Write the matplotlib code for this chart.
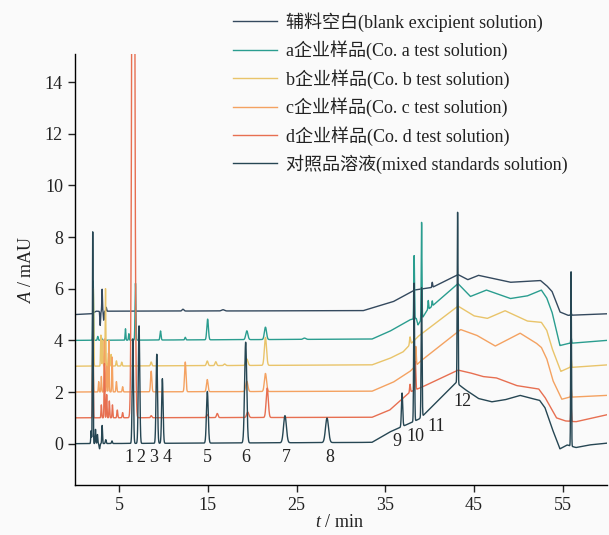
import matplotlib
matplotlib.use("Agg")
import matplotlib.pyplot as plt
import numpy as np

plt.rcParams['font.family'] = ['Liberation Serif', 'Noto Sans CJK SC']
plt.rcParams['mathtext.fontset'] = 'custom'
plt.rcParams['mathtext.rm'] = 'Liberation Serif'
plt.rcParams['mathtext.it'] = 'Liberation Serif:italic'

# baselines: (t / min, A / mAU)
blank_base = [(0, 5.0), (1.9, 5.03), (2.4, 5.13), (32.5, 5.15), (35.9, 5.5), (38.3, 5.95),
              (40.3, 6.05), (43.2, 6.55), (44.3, 6.35), (45.5, 6.52), (49.1, 6.25), (52.5, 6.32),
              (53.2, 6.12), (53.8, 5.9), (54.7, 5.1), (55.6, 4.97), (60, 5.03)]
a_base = [(0, 4.0), (33.5, 4.05), (35.5, 4.35), (37.8, 4.8), (38.5, 4.85), (38.7, 4.6),
          (39.7, 5.15), (43.2, 6.2), (44.6, 5.7), (46.4, 5.95), (49.1, 5.62), (51.0, 5.72),
          (52.6, 5.95), (53.2, 5.65), (53.8, 5.1), (54.7, 3.8), (55.6, 3.88), (60, 4.0)]
b_base = [(0, 3.0), (33.5, 3.05), (35.5, 3.3), (37.0, 3.55), (38.7, 4.15), (43.2, 5.33),
          (45.0, 4.95), (46.5, 4.85), (48.5, 5.15), (51.0, 4.75), (52.6, 4.7), (53.2, 4.4),
          (53.8, 3.7), (54.8, 2.8), (55.8, 2.95), (60, 3.05)]
c_base = [(0, 2.0), (33.5, 2.03), (35.9, 2.38), (37.8, 2.8), (39.0, 3.2), (43.5, 4.42),
          (45.3, 4.2), (47.4, 3.78), (50.2, 4.28), (52.0, 3.9), (52.6, 3.73), (53.2, 3.3),
          (53.9, 2.45), (54.9, 1.72), (55.8, 1.8), (60, 1.87)]
d_base = [(0, 1.0), (33.5, 1.02), (35.5, 1.3), (37.8, 2.0), (39.2, 2.2), (43.2, 2.85),
          (44.5, 2.75), (46.0, 2.6), (47.5, 2.55), (49.8, 2.25), (52.3, 2.12), (53.0, 1.8),
          (54.3, 1.0), (55.3, 0.88), (56.5, 0.85), (60, 1.12)]
mix_base = [(0, 0.0), (33.5, 0.05), (35.5, 0.45), (37.5, 0.75), (38.8, 0.95), (39.3, 1.1),
            (43.1, 2.4), (43.25, 2.3), (44.0, 2.1), (45.5, 1.75), (47.0, 1.62), (48.5, 1.7),
            (50.2, 1.87), (51.5, 1.75), (52.4, 1.68), (53.0, 1.4), (53.8, 0.6), (54.7, -0.2),
            (55.5, -0.05), (56.5, -0.15), (58, -0.05), (60, 0.02)]

# peaks: (retention time, height above baseline, width)
blank_peaks = [(2.87, -0.55, 0.04), (3.09, 0.85, 0.035), (3.27, -0.35, 0.04), (3.55, 0.15, 0.04),
               (12.2, 0.07, 0.1), (16.7, 0.05, 0.15), (40.3, 0.2, 0.04), (55.95, 0.1, 0.04)]
a_peaks = [(2.08, 2.3, 0.04), (2.6, 0.15, 0.05), (3.0, 0.1, 0.05), (5.72, 0.44, 0.04),
           (6.1, 0.25, 0.04), (6.85, 2.2, 0.05), (9.67, 0.35, 0.06), (12.46, 0.1, 0.06),
           (14.98, 0.8, 0.09), (19.4, 0.34, 0.12), (21.5, 0.48, 0.12), (25.9, 0.05, 0.15),
           (38.26, 2.45, 0.04), (39.1, 3.75, 0.04), (39.85, 0.35, 0.04), (40.3, 0.2, 0.04),
           (55.95, 0.25, 0.04)]
b_peaks = [(2.1, 3.0, 0.04), (2.95, 1.2, 0.04), (3.15, 1.0, 0.04), (3.47, 3.0, 0.035),
           (3.8, 0.5, 0.04), (4.1, 0.45, 0.04), (4.7, 0.2, 0.05), (5.3, 0.15, 0.05),
           (8.62, 0.15, 0.07), (14.94, 0.18, 0.09), (15.9, 0.15, 0.09), (16.9, 0.06, 0.1),
           (19.4, 0.25, 0.12), (21.5, 1.08, 0.12), (37.8, 0.3, 0.06), (55.95, 0.4, 0.04)]
c_peaks = [(2.05, 2.2, 0.04), (2.7, 0.4, 0.04), (3.0, 0.6, 0.04), (3.35, 2.05, 0.04),
           (3.6, 1.0, 0.04), (3.84, 2.0, 0.04), (4.22, 1.35, 0.04), (4.7, 0.4, 0.05),
           (5.4, 0.2, 0.05), (8.62, 0.8, 0.07), (12.46, 1.15, 0.08), (14.94, 0.47, 0.09),
           (19.4, 0.4, 0.12), (21.5, 0.7, 0.12), (38.45, 0.75, 0.05), (55.95, 0.4, 0.04)]
d_peaks = [(2.05, 2.5, 0.04), (3.0, 0.5, 0.04), (3.35, 2.1, 0.04), (3.6, 0.9, 0.04),
           (3.9, 0.65, 0.04), (4.25, 0.5, 0.04), (4.8, 0.3, 0.05), (5.4, 0.2, 0.05),
           (6.6, 40.0, 0.13), (8.62, 0.08, 0.07), (14.94, 0.12, 0.09), (16.07, 0.16, 0.09),
           (19.5, 0.21, 0.12), (21.7, 1.14, 0.12), (37.8, 0.3, 0.05), (38.4, 1.1, 0.05),
           (55.95, 0.6, 0.04)]
mix_peaks = [(1.85, 0.5, 0.04), (2.03, 8.2, 0.04), (2.34, 0.55, 0.04), (2.56, 0.35, 0.04),
             (2.8, -0.2, 0.05), (3.09, 0.7, 0.04), (3.5, 0.15, 0.05), (4.2, 0.1, 0.05),
             (6.55, 4.05, 0.07), (7.25, 4.55, 0.08), (9.25, 3.45, 0.08), (9.88, 2.5, 0.08),
             (14.95, 2.0, 0.1), (19.27, 3.9, 0.12), (23.7, 1.05, 0.16), (28.44, 0.95, 0.17),
             (36.9, 1.3, 0.07), (38.26, 5.35, 0.05), (39.1, 5.0, 0.05), (43.16, 6.6, 0.045),
             (55.95, 6.75, 0.04)]

# peak numbers of the mixed standards: (t, A)
peak_labels = ['1', '2', '3', '4', '5', '6', '7', '8', '9', '10', '11', '12']
label_t = [6.17, 7.42, 8.88, 10.4, 14.98, 19.23, 23.8, 28.7, 36.34, 38.45, 40.7, 43.7]
label_a = [-0.53, -0.53, -0.53, -0.53, -0.53, -0.53, -0.53, -0.53, 0.07, 0.26, 0.65, 1.62]

names = ['辅料空白(blank excipient solution)', 'a企业样品(Co. a test solution)',
         'b企业样品(Co. b test solution)', 'c企业样品(Co. c test solution)',
         'd企业样品(Co. d test solution)', '对照品溶液(mixed standards solution)']
colors = ['#34495e', '#2a9d8f', '#e9c46a', '#f4a261', '#e76f51', '#264653']
bases = [blank_base, a_base, b_base, c_base, d_base, mix_base]
peaks = [blank_peaks, a_peaks, b_peaks, c_peaks, d_peaks, mix_peaks]

t = np.linspace(0, 60, 12001)


def trace(base, pk):
    bt, by = zip(*base)
    y = np.interp(t, bt, by)
    for t0, h, w in pk:
        y = y + h * np.exp(-0.5 * ((t - t0) / w) ** 2)
    return y


fig = plt.figure(figsize=(6.09, 5.35), dpi=100, facecolor='#fafafa')
ax = fig.add_axes([0.1227, 0.0935, 0.874, 0.806])
ax.set_facecolor('#fafafa')

for name, col, base, pk in zip(names, colors, bases, peaks):
    ax.plot(t, trace(base, pk), color=col, lw=1.0, label=name)

for s, x, y in zip(peak_labels, label_t, label_a):
    ax.text(x, y, s, ha='center', va='center', fontsize=13, color='#222222')

ax.set_xlim(0, 60)
ax.set_ylim(-1.6, 15.1)
ax.set_xticks([5, 15, 25, 35, 45, 55])
ax.set_yticks(range(0, 15, 2))
for sp in ['top', 'right']:
    ax.spines[sp].set_visible(False)
for sp in ['left', 'bottom']:
    ax.spines[sp].set_linewidth(1.0)
ax.tick_params(direction='out', length=5, width=1.0, labelsize=13, colors='#222222')
ax.set_xlabel('$t$ / min', fontsize=13, color='#222222')
ax.set_ylabel('$A$ / mAU', fontsize=13, color='#222222')
ax.xaxis.set_label_coords(0.498, -0.068)
ax.yaxis.set_label_coords(-0.075, 0.5)

leg = ax.legend(loc='upper left', bbox_to_anchor=(0.367, 0.996), bbox_transform=fig.transFigure,
                frameon=False, fontsize=13, handlelength=2.4, handletextpad=0.5,
                labelspacing=0.485, borderaxespad=0.0, borderpad=0.55)
for txt in leg.get_texts():
    txt.set_color('#222222')

fig.savefig('out.png', dpi=100, facecolor=fig.get_facecolor())
